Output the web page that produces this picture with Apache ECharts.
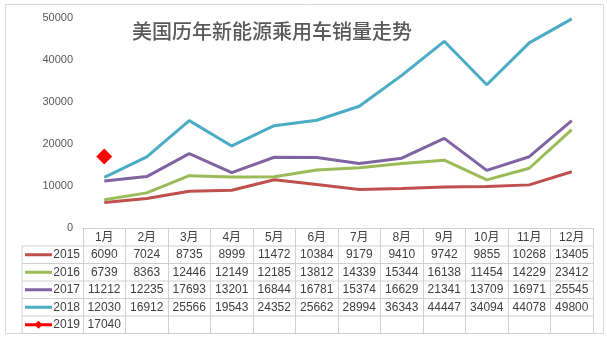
<!DOCTYPE html>
<html><head><meta charset="utf-8">
<script src="https://cdn.jsdelivr.net/npm/echarts@6/dist/echarts.min.js"></script>
<style>html,body{margin:0;padding:0;background:#fff;}#c{width:607px;height:344px;}</style>
</head><body><div id="c"></div>
<script>
const title = '美国历年新能源乘用车销量走势';
const months = ['1月','2月','3月','4月','5月','6月','7月','8月','9月','10月','11月','12月'];
const years = ['2015','2016','2017','2018','2019'];
const s2015 = [6090,7024,8735,8999,11472,10384,9179,9410,9742,9855,10268,13405];
const s2016 = [6739,8363,12446,12149,12185,13812,14339,15344,16138,11454,14229,23412];
const s2017 = [11212,12235,17693,13201,16844,16781,15374,16629,21341,13709,16971,25545];
const s2018 = [12030,16912,25566,19543,24352,25662,28994,36343,44447,34094,44078,49800];
const s2019 = [17040,null,null,null,null,null,null,null,null,null,null,null];
const colors = ['#C0504D','#9BBB59','#8064A2','#4BACC6','#FF0000'];
const allSeries = [s2015,s2016,s2017,s2018,s2019];

const FONT = '"Liberation Sans", Arial, "Noto Sans CJK SC", sans-serif';
const chart = echarts.init(document.getElementById('c'));
const gridLeft = 83, gridRight = 14, gridTop = 18, gridBottom = 116;
const tableTop = 344 - gridBottom; // 228
const rowTops = [246, 263.5, 281, 298.5, 316];
const tableBottom = 333.5;
const lineColor = '#d0d0d0';

chart.setOption({
  animation: false,
  backgroundColor: '#fff',
  textStyle: {fontFamily: FONT},
  grid: {left: gridLeft, right: gridRight, top: gridTop, bottom: gridBottom},
  xAxis: {
    type: 'category', data: months, boundaryGap: true,
    axisLine: {lineStyle: {color: lineColor, width: 1}},
    axisTick: {show: true, interval: 0, length: tableBottom - tableTop, lineStyle: {color: lineColor}},
    axisLabel: {interval: 0, margin: 4, color: '#404040', fontSize: 12, fontFamily: FONT}
  },
  yAxis: {
    type: 'value', min: 0, max: 50000, interval: 10000,
    axisLine: {show: false}, axisTick: {show: false}, splitLine: {show: false},
    axisLabel: {color: '#595959', fontSize: 11, margin: 10, fontFamily: FONT, formatter: v => String(v)}
  },
  series: allSeries.map((d, i) => ({
    type: 'line', name: years[i], data: d,
    symbol: i === 4 ? 'diamond' : 'none', symbolSize: 16,
    showSymbol: i === 4,
    lineStyle: {color: colors[i], width: 3},
    itemStyle: {color: colors[i]},
    z: 2 + i
  }))
});

const g = [];
g.push({type: 'rect', shape: {x: 5.5, y: 4.5, width: 598, height: 329}, style: {fill: 'none', stroke: '#d9d9d9', lineWidth: 1}, silent: true});
g.push({type: 'text', x: 132, y: 31, style: {text: title, fill: '#595959', font: '500 20px "Noto Sans CJK SC", sans-serif', textVerticalAlign: 'middle'}});
const xRight = chart.convertToPixel({xAxisIndex: 0}, 11) + (chart.convertToPixel({xAxisIndex: 0}, 1) - chart.convertToPixel({xAxisIndex: 0}, 0)) / 2;
rowTops.concat([tableBottom]).forEach(y => {
  g.push({type: 'line', shape: {x1: 22, y1: y, x2: xRight, y2: y}, style: {stroke: lineColor, lineWidth: 1}, silent: true});
});
g.push({type: 'line', shape: {x1: 22, y1: rowTops[0], x2: 22, y2: tableBottom}, style: {stroke: lineColor, lineWidth: 1}, silent: true});
years.forEach((yr, r) => {
  const cy = rowTops[r] + (((r < 4 ? rowTops[r + 1] : tableBottom) - rowTops[r]) / 2);
  g.push({type: 'line', shape: {x1: 25, y1: cy, x2: 52, y2: cy}, style: {stroke: colors[r], lineWidth: 3}, silent: true});
  if (r === 4) {
    g.push({type: 'polygon', shape: {points: [[38.5, cy - 4], [42.5, cy], [38.5, cy + 4], [34.5, cy]]}, style: {fill: colors[r]}, silent: true});
  }
  g.push({type: 'text', x: 80, y: cy, style: {text: yr, fill: '#404040', font: '12px ' + FONT, textAlign: 'right', textVerticalAlign: 'middle'}});
  allSeries[r].forEach((v, c) => {
    if (v == null) return;
    const cx = chart.convertToPixel({xAxisIndex: 0}, c);
    g.push({type: 'text', x: cx, y: cy, style: {text: String(v), fill: '#404040', font: '12px ' + FONT, textAlign: 'center', textVerticalAlign: 'middle'}});
  });
});
chart.setOption({graphic: g});
</script></body></html>
